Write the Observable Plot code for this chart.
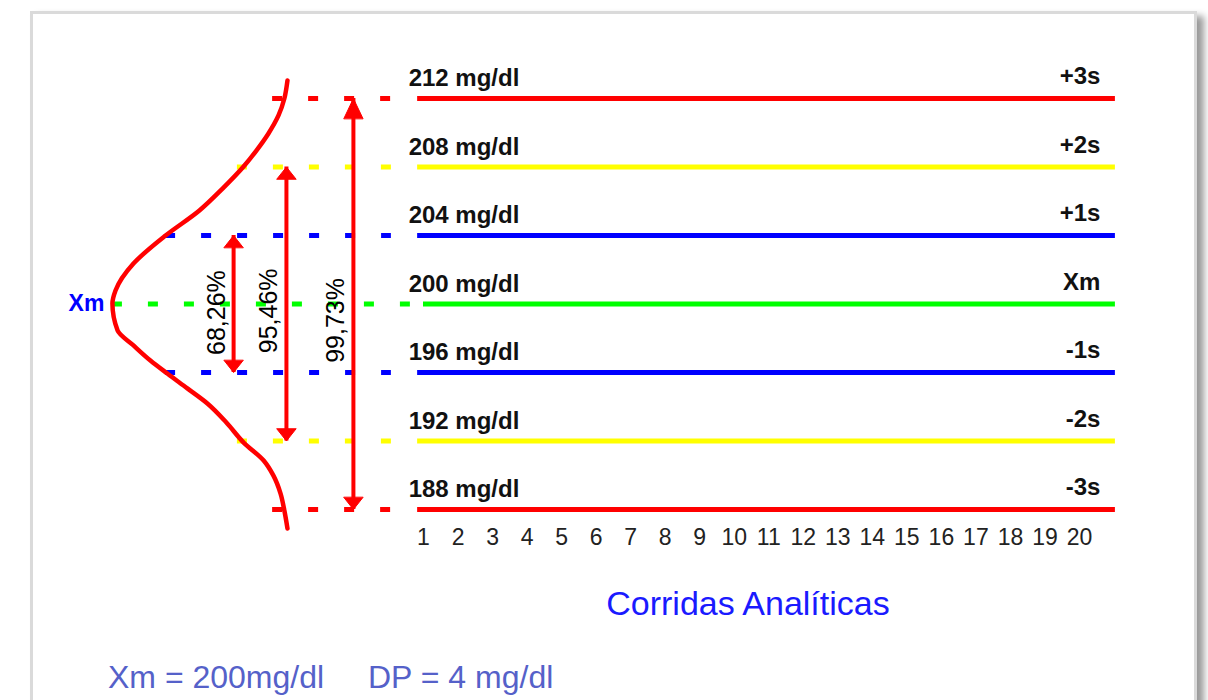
<!DOCTYPE html>
<html><head><meta charset="utf-8">
<script src="https://cdn.jsdelivr.net/npm/d3@7"></script>
<script src="https://cdn.jsdelivr.net/npm/@observablehq/plot@0.6"></script>
<style>
html,body{margin:0;padding:0;background:#fff;width:1208px;height:700px;overflow:hidden;font-family:"Liberation Sans",Arial,sans-serif;}
#card{position:absolute;left:30px;top:11px;width:1161px;height:760px;border:3px solid #dadada;box-shadow:7px 5px 7px rgba(0,0,0,0.4);background:#fff;}
#chart{position:absolute;left:0;top:0;}
.cap{position:absolute;white-space:pre;line-height:1;}
#xlabel{left:748px;top:586px;transform:translateX(-50%);font-size:34px;color:#1a1aff;}
#s1{left:108px;top:661px;font-size:32px;color:#5561c9;}
#s2{left:368px;top:661px;font-size:32px;color:#5561c9;}
</style></head><body>
<div id="card"></div>
<div id="chart"></div>
<div class="cap" id="xlabel">Corridas Analíticas</div>
<div class="cap" id="s1">Xm = 200mg/dl</div>
<div class="cap" id="s2">DP = 4 mg/dl</div>
<script>
// ---- data ----
const levels = [212, 208, 204, 200, 196, 192, 188];
const sdSteps = [3, 2, 1, 0, -1, -2, -3];
const levelLabels = ["212 mg/dl", "208 mg/dl", "204 mg/dl", "200 mg/dl", "196 mg/dl", "192 mg/dl", "188 mg/dl"];
const sdLabels = ["+3s", "+2s", "+1s", "Xm", "-1s", "-2s", "-3s"];
const runs = [1, 2, 3, 4, 5, 6, 7, 8, 9, 10, 11, 12, 13, 14, 15, 16, 17, 18, 19, 20];
// where each control line begins / ends (in run units)
const lineStart = [0.83, 0.83, 0.83, 1.0, 0.83, 0.83, 0.83];
const lineEnd = [21.04, 21.04, 21.04, 21.04, 21.04, 21.04, 21.04];
const labelStart = 0.57;
// dotted guides from the bell curve to the control lines (run units)
const guideStart = [-3.37, -4.39, -6.47, -8.01, -6.47, -4.39, -3.37];
const guideEnd = [0.07, 0.07, 0.07, 0.62, 0.07, 0.07, 0.07];
// hand-drawn bell curve (x in run units, y in mg/dl)
const curveX = [-2.94, -3.03, -3.20, -3.49, -3.84, -4.21, -4.82, -5.49, -6.47, -7.40, -7.92, -8.01,
                -7.86, -7.40, -6.91, -6.42, -5.84, -5.26, -4.71, -4.21, -3.63, -3.35, -3.14, -3.03, -2.94];
const curveY = [213.05, 212.0, 211.01, 209.96, 208.96, 208.03, 206.74, 205.46, 204.0, 202.36, 200.79, 200.03,
                198.45, 197.58, 196.70, 195.94, 195.07, 194.19, 193.08, 191.91, 190.86, 189.99, 188.93, 187.94, 186.89];
// coverage arrows
const coverageLabels = ["68,26%", "95,46%", "99,73%"];
const coverageSteps = [1, 2, 3];
const coverageX = [-4.5, -2.97, -1.03];
const coverageLabelY = [199.5, 199.6, 199.04];
const topHeadLength = [12, 12, 20];
const bottomHeadLength = [12, 12, 12];
const mean = 200, sd = 4;

// ---- tables built from the arrays ----
const rows = levels.map((v, i) => ({
  value: v, step: sdSteps[i], label: levelLabels[i], sdLabel: sdLabels[i],
  start: lineStart[i], end: lineEnd[i], gStart: guideStart[i], gEnd: guideEnd[i]
}));
const curve = curveX.map((x, i) => ({x, y: curveY[i]}));
const arrows = coverageLabels.map((t, i) => ({
  text: t, x: coverageX[i], lo: mean - sd * coverageSteps[i], hi: mean + sd * coverageSteps[i], labelY: coverageLabelY[i]
}));
const heads = arrows.flatMap((a, i) => [
  {x: a.x, y: a.hi, rotate: 0, length: topHeadLength[i]},
  {x: a.x, y: a.lo, rotate: 180, length: bottomHeadLength[i]}
]);

const triHead = {
  draw(context, l) {
    const w = 9.5;
    context.moveTo(-w, 0);
    context.lineTo(0, -l);
    context.lineTo(w, 0);
    context.closePath();
  }
};

const RED = "#ff0000";

const chart = Plot.plot({
  width: 1208,
  height: 560,
  marginTop: 0, marginRight: 0, marginLeft: 0, marginBottom: 35,
  style: {fontFamily: "Liberation Sans, Arial, sans-serif", background: "transparent", overflow: "visible"},
  x: {domain: [1, 20], range: [423, 1079], label: null},
  y: {domain: [188, 212], range: [509, 98], axis: null},
  color: {type: "ordinal", domain: [3, 2, 1, 0, -1, -2, -3],
          range: ["#ff0000", "#ffff00", "#0000ff", "#00ff00", "#0000ff", "#ffff00", "#ff0000"]},
  length: {type: "identity"},
  marks: [
    Plot.ruleY(rows, {y: "value", x1: "gStart", x2: "gEnd", stroke: "step", strokeWidth: 5, strokeDasharray: "10,26"}),
    Plot.ruleY(rows, {y: "value", x1: "start", x2: "end", stroke: "step", strokeWidth: 5}),
    Plot.line(curve, {x: "x", y: "y", stroke: RED, strokeWidth: 4.5, curve: "monotone-y"}),
    Plot.ruleX(arrows, {x: "x", y1: "lo", y2: "hi", stroke: RED, strokeWidth: 4}),
    Plot.vector(heads, {x: "x", y: "y", rotate: "rotate", length: "length", anchor: "end", shape: triHead, fill: RED, stroke: RED, strokeWidth: 1}),
    Plot.text(arrows, {x: "x", y: "labelY", text: "text", rotate: -90, dx: -17, fontSize: 25, fill: "#000"}),
    Plot.text(rows, {x: () => labelStart, y: "value", text: "label", dy: -20, textAnchor: "start", fontSize: 24, fontWeight: "bold", fill: "#111"}),
    Plot.text(rows, {x: "end", y: "value", text: "sdLabel", dx: -15, dy: -22, textAnchor: "end", fontSize: 24, fontWeight: "bold", fill: "#111"}),
    Plot.text(rows.filter(d => d.step === 0), {x: "gStart", y: "value", text: () => "Xm", dx: -8, textAnchor: "end", fontSize: 23, fontWeight: "bold", fill: "#0000ff"}),
    Plot.axisX(runs, {tickSize: 0, tickPadding: 3, fontSize: 23, fill: "#222", label: null})
  ]
});
document.getElementById("chart").appendChild(chart);
</script>
</body></html>
